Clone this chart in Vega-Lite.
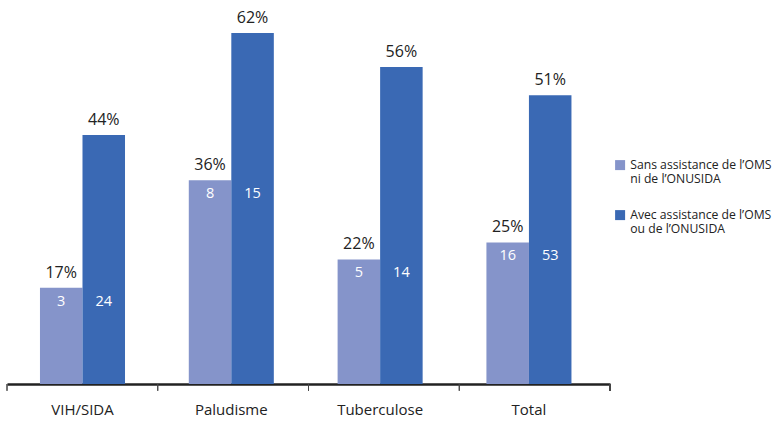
{
  "$schema": "https://vega.github.io/schema/vega-lite/v6.json",
  "width": 603,
  "height": 351,
  "autosize": "none",
  "padding": {"left": 7, "top": 33, "right": 165, "bottom": 38},
  "config": {"view": {"stroke": null}, "font": "Open Sans"},
  "data": {
    "values": [
      {"cat": "VIH/SIDA", "series": "Sans assistance de l’OMS|ni de l’ONUSIDA", "pct": 0.17, "n": 3},
      {"cat": "VIH/SIDA", "series": "Avec assistance de l’OMS|ou de l’ONUSIDA", "pct": 0.44, "n": 24},
      {"cat": "Paludisme", "series": "Sans assistance de l’OMS|ni de l’ONUSIDA", "pct": 0.36, "n": 8},
      {"cat": "Paludisme", "series": "Avec assistance de l’OMS|ou de l’ONUSIDA", "pct": 0.62, "n": 15},
      {"cat": "Tuberculose", "series": "Sans assistance de l’OMS|ni de l’ONUSIDA", "pct": 0.22, "n": 5},
      {"cat": "Tuberculose", "series": "Avec assistance de l’OMS|ou de l’ONUSIDA", "pct": 0.56, "n": 14},
      {"cat": "Total", "series": "Sans assistance de l’OMS|ni de l’ONUSIDA", "pct": 0.25, "n": 16},
      {"cat": "Total", "series": "Avec assistance de l’OMS|ou de l’ONUSIDA", "pct": 0.51, "n": 53}
    ]
  },
  "layer": [
    {
      "layer": [
        {
          "mark": {"type": "bar"},
          "encoding": {
            "x": {"field": "cat", "type": "nominal", "sort": ["VIH/SIDA", "Paludisme", "Tuberculose", "Total"],
                  "scale": {"paddingInner": 0, "paddingOuter": 0.026, "align": 0.14},
                  "axis": {"title": null, "ticks": false, "labelAngle": 0, "labelFontSize": 15, "labelColor": "#222", "labelPadding": 18, "domainColor": "#222", "domainWidth": 2.5}},
            "xOffset": {"field": "series", "type": "nominal", "sort": ["Sans assistance de l’OMS|ni de l’ONUSIDA", "Avec assistance de l’OMS|ou de l’ONUSIDA"],
                        "scale": {"paddingInner": 0, "paddingOuter": 0.75}},
            "y": {"field": "pct", "type": "quantitative", "scale": {"domain": [0, 0.62], "nice": false}, "axis": null},
            "color": {"field": "series", "type": "nominal", "sort": ["Sans assistance de l’OMS|ni de l’ONUSIDA", "Avec assistance de l’OMS|ou de l’ONUSIDA"],
                      "scale": {"range": ["#8594CA", "#3A69B4"]},
                      "legend": {"orient": "none", "legendX": 607, "legendY": 126, "title": null, "symbolType": "square", "symbolSize": 100, "symbolStrokeWidth": 0,
                                 "labelFontSize": 12.2, "labelColor": "#222", "labelLimit": 200, "labelExpr": "split(datum.label, '|')", "rowPadding": 23}}
          }
        },
        {
          "mark": {"type": "text", "baseline": "bottom", "dy": -7, "fontSize": 16, "color": "#222"},
          "encoding": {
            "x": {"field": "cat", "type": "nominal", "sort": ["VIH/SIDA", "Paludisme", "Tuberculose", "Total"]},
            "xOffset": {"field": "series", "type": "nominal", "sort": ["Sans assistance de l’OMS|ni de l’ONUSIDA", "Avec assistance de l’OMS|ou de l’ONUSIDA"]},
            "y": {"field": "pct", "type": "quantitative", "axis": null},
            "text": {"field": "pct", "type": "quantitative", "format": ".0%"}
          }
        },
        {
          "transform": [{"joinaggregate": [{"op": "min", "field": "pct", "as": "base"}], "groupby": ["cat"]}],
          "mark": {"type": "text", "baseline": "middle", "dy": 14, "fontSize": 14.5, "color": "white"},
          "encoding": {
            "x": {"field": "cat", "type": "nominal", "sort": ["VIH/SIDA", "Paludisme", "Tuberculose", "Total"]},
            "xOffset": {"field": "series", "type": "nominal", "sort": ["Sans assistance de l’OMS|ni de l’ONUSIDA", "Avec assistance de l’OMS|ou de l’ONUSIDA"]},
            "y": {"field": "base", "type": "quantitative", "axis": null},
            "text": {"field": "n", "type": "quantitative"}
          }
        }
      ]
    },
    {
      "layer": [
        {
          "mark": {"type": "rule", "color": "#444", "strokeWidth": 1},
          "encoding": {
            "x": {"field": "cat", "type": "nominal", "sort": ["VIH/SIDA", "Paludisme", "Tuberculose", "Total"], "bandPosition": 0,
                  "scale": {"type": "band", "paddingInner": 0, "paddingOuter": 0}, "axis": null},
            "y": {"datum": 0, "axis": null},
            "y2": {"datum": -0.012}
          }
        },
        {
          "mark": {"type": "rule", "color": "#444", "strokeWidth": 1},
          "encoding": {
            "x": {"datum": "Total", "bandPosition": 1, "axis": null},
            "y": {"datum": 0, "axis": null},
            "y2": {"datum": -0.012}
          }
        }
      ]
    }
  ],
  "resolve": {"scale": {"x": "independent"}, "axis": {"x": "independent"}}
}
